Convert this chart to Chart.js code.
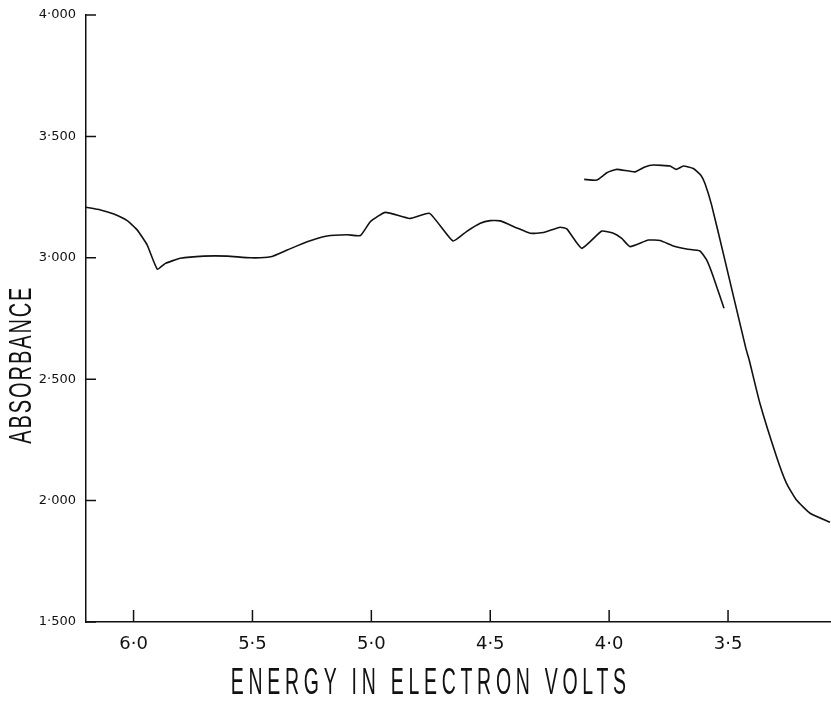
<!DOCTYPE html>
<html><head><meta charset="utf-8">
<script src="https://cdn.jsdelivr.net/npm/chart.js@4.4.0/dist/chart.umd.min.js"></script>
<style>html,body{margin:0;padding:0;background:#fff}#wrap{width:831px;height:703px}</style>
</head><body><div id="wrap"><canvas id="c" width="831" height="703"></canvas></div>
<script>
const lowerEnergy = [6.20, 6.139, 6.083, 6.027, 5.985, 5.943, 5.90, 5.866, 5.803, 5.705, 5.606, 5.508, 5.424, 5.354, 5.27, 5.186, 5.102, 5.046, 5.004, 4.941, 4.839, 4.755, 4.657, 4.60, 4.542, 4.50, 4.458, 4.388, 4.332, 4.276, 4.206, 4.178, 4.115, 4.031, 3.982, 3.947, 3.912, 3.835, 3.786, 3.730, 3.674, 3.618, 3.590, 3.562, 3.517];
const lowerAbsorbance = [3.208, 3.197, 3.180, 3.153, 3.115, 3.053, 2.953, 2.977, 2.998, 3.007, 3.007, 3.000, 3.004, 3.032, 3.066, 3.090, 3.095, 3.092, 3.149, 3.187, 3.162, 3.183, 3.069, 3.108, 3.142, 3.153, 3.152, 3.123, 3.101, 3.104, 3.126, 3.119, 3.039, 3.110, 3.101, 3.080, 3.046, 3.073, 3.071, 3.049, 3.036, 3.028, 2.991, 2.922, 2.792];
const upperEnergy = [4.105, 4.052, 4.010, 3.968, 3.891, 3.850, 3.814, 3.744, 3.718, 3.688, 3.646, 3.615, 3.597, 3.569, 3.520, 3.425, 3.411, 3.366, 3.296, 3.254, 3.212, 3.155, 3.071];
const upperAbsorbance = [3.323, 3.320, 3.350, 3.364, 3.354, 3.374, 3.382, 3.378, 3.364, 3.378, 3.368, 3.341, 3.306, 3.217, 3.018, 2.627, 2.579, 2.401, 2.181, 2.071, 2.002, 1.948, 1.911];
const xTickValues = [6.0, 5.5, 5.0, 4.5, 4.0, 3.5];
const xTickLabels = ['6·0', '5·5', '5·0', '4·5', '4·0', '3·5'];
const yTickValues = [1.5, 2.0, 2.5, 3.0, 3.5, 4.0];
const yTickLabels = ['1·500', '2·000', '2·500', '3·000', '3·500', '4·000'];
const xTitle = 'ENERGY IN ELECTRON VOLTS';
const yTitle = 'ABSORBANCE';

const toPts = (xs, ys) => xs.map((x, i) => ({x: x, y: ys[i]}));

const inwardTicks = {
  id: 'inwardTicks',
  afterDraw(chart) {
    const {ctx, chartArea, scales} = chart;
    ctx.save();
    ctx.strokeStyle = '#111';
    ctx.lineWidth = 1.5;
    ctx.beginPath();
    xTickValues.forEach(v => {
      const px = scales.x.getPixelForValue(v);
      ctx.moveTo(px, chartArea.bottom);
      ctx.lineTo(px, chartArea.bottom - 12);
    });
    yTickValues.forEach(v => {
      const py = scales.y.getPixelForValue(v);
      ctx.moveTo(chartArea.left, py);
      ctx.lineTo(chartArea.left + 10, py);
    });
    ctx.stroke();
    ctx.restore();
  }
};

const axisTitles = {
  id: 'axisTitles',
  afterDraw(chart) {
    const {ctx, scales} = chart;
    ctx.save();
    ctx.fillStyle = '#111';
    ctx.textAlign = 'center';
    ctx.textBaseline = 'middle';
    ctx.font = '37px "Liberation Sans Narrow", "Liberation Sans", sans-serif';
    ctx.letterSpacing = '9px';
    let w = ctx.measureText(xTitle).width;
    let sx = 400 / w;
    ctx.save();
    ctx.translate(scales.x.getPixelForValue(4.75), 684);
    ctx.scale(sx, 1);
    ctx.fillText(xTitle, 0, 0);
    ctx.restore();
    ctx.font = '32px "Liberation Sans Narrow", "Liberation Sans", sans-serif';
    ctx.letterSpacing = '3px';
    w = ctx.measureText(yTitle).width;
    sx = 158 / w;
    ctx.save();
    ctx.translate(22, scales.y.getPixelForValue(2.56));
    ctx.rotate(-Math.PI / 2);
    ctx.scale(sx, 1);
    ctx.fillText(yTitle, 0, 0);
    ctx.restore();
    ctx.restore();
  }
};

new Chart(document.getElementById('c'), {
  type: 'line',
  data: {
    datasets: [
      {data: toPts(lowerEnergy, lowerAbsorbance), borderColor: '#111', borderWidth: 1.6, pointRadius: 0, tension: 0.15, fill: false},
      {data: toPts(upperEnergy, upperAbsorbance), borderColor: '#111', borderWidth: 1.6, pointRadius: 0, tension: 0.15, fill: false}
    ]
  },
  options: {
    responsive: false,
    animation: false,
    devicePixelRatio: 1,
    layout: {padding: {top: 15, right: 0, left: 0, bottom: 0}},
    plugins: {legend: {display: false}, tooltip: {enabled: false}, title: {display: false}},
    scales: {
      x: {
        type: 'linear', reverse: true, min: 3.067, max: 6.2,
        afterBuildTicks: s => { s.ticks = xTickValues.map(v => ({value: v})); },
        afterFit: s => { s.height = 81; },
        grid: {display: false},
        border: {display: true, color: '#111', width: 1.5},
        ticks: {
          autoSkip: false, maxRotation: 0, padding: 4, color: '#111',
          font: {family: '"DejaVu Sans", sans-serif', size: 18},
          callback: v => xTickLabels[xTickValues.indexOf(v)]
        }
      },
      y: {
        type: 'linear', min: 1.5, max: 4.0,
        afterBuildTicks: s => { s.ticks = yTickValues.map(v => ({value: v})); },
        afterFit: s => { s.width = 86; },
        grid: {display: false},
        border: {display: true, color: '#111', width: 1.5},
        ticks: {
          autoSkip: false, padding: 2, color: '#111',
          font: {family: '"DejaVu Sans", sans-serif', size: 13},
          callback: v => yTickLabels[yTickValues.indexOf(v)]
        }
      }
    }
  },
  plugins: [inwardTicks, axisTitles]
});
</script>
</body></html>
